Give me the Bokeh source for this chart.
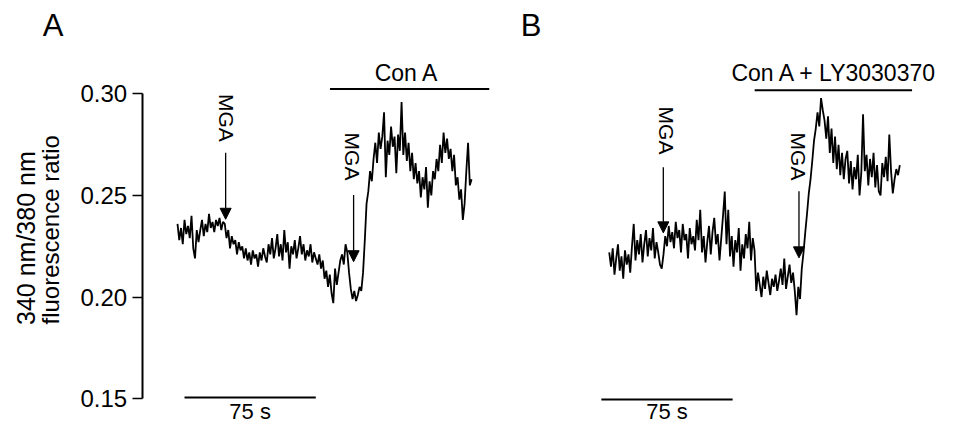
import math
from bokeh.plotting import figure
from bokeh.models import Range1d, Arrow, NormalHead, FixedTicker, PrintfTickFormatter
from bokeh.core.properties import value
from bokeh.embed import file_html
from bokeh.resources import INLINE

FONT = "Liberation Sans"

# ---- data ----
# Panel A: fura-2 ratio, one sample per second
ratio_a = [
    0.236, 0.228, 0.234, 0.226, 0.238, 0.231,
    0.235, 0.229, 0.240, 0.224, 0.219, 0.233, 0.227,
    0.233, 0.238, 0.230, 0.236, 0.232, 0.241, 0.234, 0.237, 0.232, 0.238, 0.235, 0.239, 0.233, 0.237, 0.236,
    0.229, 0.233, 0.224, 0.230, 0.226, 0.228, 0.221, 0.227, 0.223, 0.225, 0.219,
    0.224, 0.218, 0.222, 0.216, 0.223, 0.219, 0.221, 0.215, 0.222, 0.218, 0.224, 0.220,
    0.217, 0.226, 0.221, 0.229, 0.219, 0.224, 0.231, 0.220, 0.226, 0.218, 0.233, 0.222, 0.227, 0.214, 0.225, 0.221,
    0.228, 0.219, 0.224, 0.230, 0.221, 0.226, 0.218, 0.223, 0.220, 0.226, 0.217, 0.222, 0.219, 0.216, 0.221, 0.214, 0.218,
    0.209, 0.213, 0.205, 0.211, 0.202, 0.197, 0.214, 0.206, 0.212,
    0.218, 0.221, 0.216, 0.226, 0.222,
    0.212, 0.204, 0.199, 0.203, 0.198, 0.201, 0.205, 0.203,
    0.212, 0.228, 0.246, 0.252, 0.262, 0.257,
    0.268, 0.276, 0.266, 0.281, 0.273,
    0.279, 0.291, 0.259, 0.277, 0.270, 0.284, 0.274, 0.279, 0.261, 0.280, 0.272, 0.296, 0.270, 0.281, 0.267,
    0.276, 0.262, 0.271, 0.258, 0.266, 0.256,
    0.262, 0.249, 0.259, 0.253, 0.264, 0.244, 0.257, 0.250, 0.262,
    0.258, 0.268, 0.262, 0.275, 0.266, 0.281, 0.271, 0.278, 0.268, 0.273,
    0.262, 0.270, 0.255, 0.259, 0.248, 0.253, 0.238, 0.246,
    0.262, 0.276, 0.255, 0.258,
]
# Panel B: with LY3030370, one sample per second
ratio_b = [
    0.222, 0.215, 0.224, 0.211, 0.219, 0.226, 0.213, 0.220, 0.209, 0.223, 0.216, 0.221, 0.212, 0.225,
    0.236, 0.218, 0.228, 0.221, 0.231, 0.217, 0.226, 0.233, 0.220, 0.229, 0.223, 0.234, 0.219, 0.227, 0.222, 0.216, 0.214,
    0.221, 0.230, 0.225, 0.235, 0.227, 0.232, 0.224, 0.237, 0.229, 0.233, 0.222, 0.236, 0.228, 0.231, 0.219, 0.234, 0.226, 0.230, 0.223, 0.238,
    0.228, 0.243, 0.222, 0.230, 0.217, 0.227, 0.235, 0.221, 0.232, 0.239, 0.226, 0.231, 0.218, 0.229, 0.240,
    0.252, 0.226, 0.243,
    0.220, 0.230, 0.215, 0.228, 0.222, 0.234, 0.213, 0.226, 0.219, 0.231, 0.224, 0.237, 0.218, 0.229, 0.223,
    0.203, 0.212, 0.206, 0.200, 0.210, 0.204, 0.213, 0.207, 0.201, 0.209, 0.205, 0.211, 0.203, 0.208, 0.214, 0.206, 0.219, 0.204, 0.210, 0.216, 0.207, 0.212,
    0.203, 0.191, 0.205, 0.199,
    0.214, 0.222, 0.232, 0.241, 0.251, 0.258, 0.267, 0.277,
    0.283, 0.291, 0.284, 0.298, 0.292,
    0.287, 0.278, 0.289, 0.271, 0.283, 0.266, 0.279, 0.263, 0.275, 0.260, 0.271, 0.258, 0.268,
    0.272, 0.256, 0.267, 0.253, 0.264, 0.258, 0.270, 0.250, 0.261, 0.290, 0.262, 0.270, 0.255, 0.268, 0.259,
    0.271, 0.254, 0.265, 0.252, 0.250, 0.266, 0.259, 0.269, 0.257, 0.280, 0.262, 0.251, 0.258, 0.263, 0.260, 0.265,
]
sample_interval_s = 1.0
time_a = [i * sample_interval_s for i in range(len(ratio_a))]
time_b = [i * sample_interval_s for i in range(len(ratio_b))]

y_ticks = [0.15, 0.20, 0.25, 0.30]
y_label_lines = ["340 nm/380 nm", "fluorescence ratio"]
panel_labels = ["A", "B"]
treatment_labels = ["Con A", "Con A + LY3030370"]
stimulus_label = "MGA"
scale_label = "75 s"

# treatment bars (start, end in s) and MGA addition times (s)
treat_a = [87.1, 178.1]
treat_b = [83.1, 173.0]
mga_a = [27.5, 100.6]
mga_b = [30.9, 108.4]
scale_a = [4.0, 79.0]
scale_b = [-4.5, 70.5]

# ---- figure ----
p = figure(width=948, height=426, output_backend="svg", toolbar_location=None,
           x_axis_type=None,
           x_range=Range1d(-101.12, 440.45), y_range=Range1d(0.13624, 0.34604),
           min_border_left=0, min_border_right=0, min_border_top=0, min_border_bottom=0)
p.extra_x_ranges = {"B": Range1d(-347.75, 193.82)}
p.grid.visible = False
p.outline_line_color = None
p.background_fill_color = "white"
p.border_fill_color = "white"

ax = p.yaxis[0]
ax.fixed_location = -20.22
ax.ticker = FixedTicker(ticks=y_ticks)
ax.bounds = (0.15, 0.30)
ax.formatter = PrintfTickFormatter(format="%.2f")
ax.major_tick_out = 10
ax.major_tick_in = 0
ax.minor_tick_out = 0
ax.minor_tick_in = 0
ax.axis_line_width = 2
ax.axis_line_color = "black"
ax.major_tick_line_width = 1.5
ax.major_tick_line_color = "black"
ax.major_label_text_font = FONT
ax.major_label_text_font_size = "24px"
ax.major_label_text_color = "black"
ax.major_label_standoff = 5

LW = 1.8
# traces
p.line(time_a, ratio_a, line_width=LW, line_color="black")
p.line(time_b, ratio_b, line_width=LW, line_color="black", x_range_name="B")


def txt(x, y, s, size, rn="default", angle=0.0, align="center"):
    p.text(x=[x], y=[y], text=[s], angle=angle, text_font=value(FONT), text_font_size=size,
           text_align=align, text_baseline="middle", text_color="black", x_range_name=rn)


# treatment bars
p.segment(x0=[treat_a[0]], y0=[0.3024], x1=[treat_a[1]], y1=[0.3024], line_width=2, line_color="black")
p.segment(x0=[treat_b[0]], y0=[0.3019], x1=[treat_b[1]], y1=[0.3019], line_width=2, line_color="black",
          x_range_name="B")
txt(130.9, 0.3104, treatment_labels[0], "23px")
txt(128.7, 0.3102, treatment_labels[1], "23px", rn="B")

# scale bars
p.segment(x0=[scale_a[0]], y0=[0.1505], x1=[scale_a[1]], y1=[0.1505], line_width=2, line_color="black")
p.segment(x0=[scale_b[0]], y0=[0.1495], x1=[scale_b[1]], y1=[0.1495], line_width=2, line_color="black",
          x_range_name="B")
txt(sum(scale_a) / 2, 0.1434, scale_label, "22px")
txt(sum(scale_b) / 2, 0.1434, scale_label, "22px", rn="B")

# MGA annotations: text (rotated) + arrow
mga_specs = [
    # (range, text x, text top y, arrow x, arrow start y, arrow tip y)
    ("default", 28.1, 0.3000, mga_a[0], 0.2710, 0.2383),
    ("default", 99.7, 0.2810, mga_a[1], 0.2502, 0.2174),
    ("B", 32.9, 0.2938, mga_b[0], 0.2639, 0.2316),
    ("B", 107.9, 0.2810, mga_b[1], 0.2521, 0.2193),
]
for rn, tx, ty, axx, ay0, ay1 in mga_specs:
    txt(tx, ty, stimulus_label, "21px", rn=rn, angle=-math.pi / 2, align="left")
    p.add_layout(Arrow(end=NormalHead(size=11, fill_color="black", line_color="black", line_width=1),
                       x_start=axx, y_start=ay0, x_end=axx, y_end=ay1,
                       line_width=1.3, line_color="black", x_range_name=rn))

# panel letters
txt(-77.0, 0.3335, panel_labels[0], "31px", align="left")
txt(196.1, 0.3335, panel_labels[1], "31px", align="left")

# y-axis title (two lines)
txt(-86.5, 0.2290, y_label_lines[0], "25px", angle=math.pi / 2)
txt(-72.8, 0.2331, y_label_lines[1], "24px", angle=math.pi / 2)

open("out.html", "w").write(file_html(p, INLINE))
